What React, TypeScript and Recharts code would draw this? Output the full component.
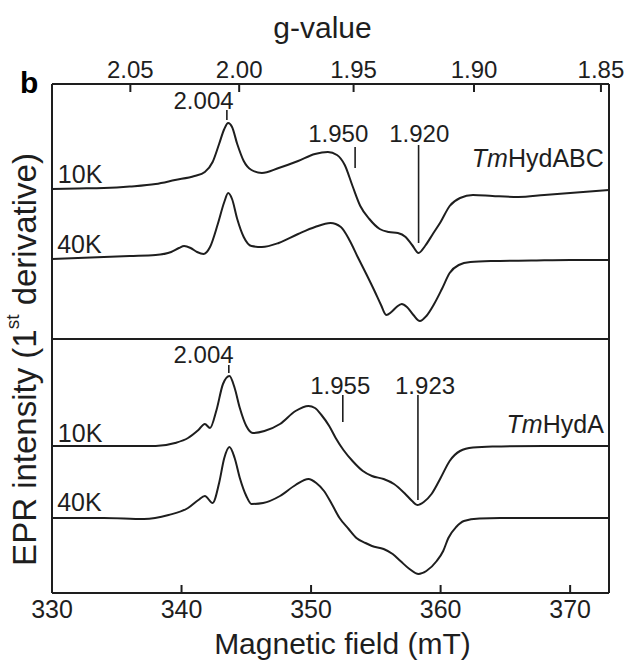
import React from 'react';
import { ComposedChart, Line, XAxis, YAxis, ReferenceLine, ReferenceDot } from 'recharts';

const FONT = '"Liberation Sans", Arial, Helvetica, sans-serif';
const INK = '#1e1e1e';

// Resonance field (mT) = G_FACTOR / g  (microwave frequency ~9.64 GHz)
const G_FACTOR = 688.9;
const fieldDomain: [number, number] = [330, 373];
const fieldTicks = [330, 340, 350, 360, 370];
const gTicks = [2.05, 2.0, 1.95, 1.9, 1.85];

// [field (mT), 1st-derivative intensity (a.u.)]
const hydABC10K: [number, number][] = [
  [330, 0], [332, 0.5], [334, 1], [336, 2.5], [338, 5], [339.5, 9], [341, 13], [341.8, 17],
  [342.4, 27], [342.9, 45], [343.3, 60], [343.6, 66], [343.9, 62], [344.3, 45], [344.8, 28],
  [345.4, 19], [346.2, 16], [347.5, 21], [349, 28], [350.3, 35], [351.3, 37], [352.0, 34],
  [352.6, 24], [353.2, 3], [353.8, -17], [354.5, -30], [355.3, -40], [356.0, -43], [356.7, -44],
  [357.3, -48], [357.8, -56], [358.3, -64], [358.8, -57], [359.4, -45], [360.0, -33], [360.7, -17],
  [361.5, -9], [362.5, -6], [364, -7], [366, -8], [368, -6], [370, -4], [373, -1],
];
const hydABC40K: [number, number][] = [
  [330, 0], [333, 1.5], [336, 3], [338, 4], [339.2, 7], [339.8, 11], [340.2, 13], [340.7, 11],
  [341.2, 7], [341.7, 5], [342.2, 12], [342.8, 35], [343.3, 57], [343.6, 66], [343.9, 60],
  [344.3, 40], [344.8, 22], [345.4, 13], [346.2, 12], [347.5, 16], [349, 25], [350.3, 32],
  [351.5, 36], [352.3, 32], [353.0, 18], [353.6, 2], [354.3, -16], [354.9, -32], [355.4, -46],
  [355.8, -56], [356.2, -53], [356.6, -48], [357.0, -45], [357.4, -48], [357.9, -56], [358.4, -62],
  [358.9, -57], [359.5, -45], [360.1, -30], [360.7, -14], [361.4, -6], [362.3, -3], [364, -2],
  [367, -1.5], [370, -1], [373, -1],
];
const hydA10K: [number, number][] = [
  [330, 0], [334, 0], [338, 0], [339.5, 3], [340.5, 8], [341.3, 16], [341.8, 22], [342.2, 18],
  [342.7, 36], [343.2, 62], [343.7, 70], [344.1, 58], [344.5, 38], [345.0, 20], [345.5, 13],
  [346.4, 15], [347.6, 22], [348.8, 35], [349.8, 40], [350.3, 38], [350.8, 31], [351.4, 20],
  [351.9, 8], [352.5, -4], [353.2, -15], [354.0, -25], [354.7, -30], [355.6, -33], [356.4, -38],
  [357.2, -47], [357.8, -55], [358.2, -59], [358.7, -56], [359.3, -48], [360.0, -32], [360.7, -15],
  [361.5, -5], [362.5, -1.5], [364, -0.5], [368, 0], [373, 0],
];
const hydA40K: [number, number][] = [
  [330, 0], [334, 0], [337.1, -1], [339, 3], [340.5, 10], [341.3, 18], [341.8, 22], [342.4, 15],
  [342.9, 35], [343.3, 60], [343.7, 71], [344.1, 60], [344.5, 40], [345.0, 22], [345.4, 14],
  [346.3, 15], [347.6, 22], [348.8, 33], [349.8, 39], [350.4, 35], [351.0, 27], [351.6, 14],
  [352.2, 0], [352.9, -11], [353.5, -20], [354.2, -25], [354.7, -28], [355.6, -31], [356.3, -36],
  [356.9, -43], [357.6, -51], [358.3, -56], [358.9, -53], [359.7, -43], [360.2, -33], [360.6, -20],
  [361.2, -9], [361.8, -3], [363, -0.5], [364.6, 0], [373, 0],
];

// vertical stacking offsets of the traces
const baselines = { hydABC10K: 404, hydABC40K: 334, hydA10K: 147, hydA40K: 75 };
const yDomain: [number, number] = [0, 509];
const panelDivider = 254;

const series = [
  { key: 'abc10', pts: hydABC10K, base: baselines.hydABC10K },
  { key: 'abc40', pts: hydABC40K, base: baselines.hydABC40K },
  { key: 'a10', pts: hydA10K, base: baselines.hydA10K },
  { key: 'a40', pts: hydA40K, base: baselines.hydA40K },
].map((s) => ({ key: s.key, rows: s.pts.map(([x, v]) => ({ x, v: v + s.base })) }));

// g-value markers: text, text position, marker line field & extent
const markers = [
  { text: '2.004', tx: 341.7, ty: 493, lx: 343.5, y1: 483, y2: 473 },
  { text: '1.950', tx: 352.1, ty: 460, lx: 353.4, y1: 446, y2: 425 },
  { text: '1.920', tx: 358.35, ty: 460, lx: 358.3, y1: 448, y2: 350 },
  { text: '2.004', tx: 341.7, ty: 239, lx: 343.65, y1: 228, y2: 220 },
  { text: '1.955', tx: 352.25, ty: 208, lx: 352.45, y1: 198, y2: 171 },
  { text: '1.923', tx: 358.8, ty: 208, lx: 358.25, y1: 198, y2: 93 },
];
const tempLabels = [
  { text: '10K', x: 330.45, y: 419 },
  { text: '40K', x: 330.4, y: 349 },
  { text: '10K', x: 330.45, y: 160 },
  { text: '40K', x: 330.4, y: 91 },
];
const sampleLabels = [
  { italic: 'Tm', rest: 'HydABC', x: 372.6, y: 435 },
  { italic: 'Tm', rest: 'HydA', x: 372.6, y: 169 },
];

const BottomTick = (props: any) => {
  const { x, y, payload } = props;
  return (
    <g>
      <line x1={x} x2={x} y1={y} y2={y - 8} stroke={INK} strokeWidth={2} />
      <text x={x} y={y + 25} textAnchor="middle" fontSize={25} fontFamily={FONT} fill={INK}>
        {payload.value}
      </text>
    </g>
  );
};

const TopTick = (props: any) => {
  const { x, y, payload } = props;
  return (
    <g>
      <line x1={x} x2={x} y1={y} y2={y + 8} stroke={INK} strokeWidth={2} />
      <text x={x} y={y - 6} textAnchor="middle" fontSize={24} fontFamily={FONT} fill={INK}>
        {(G_FACTOR / payload.value).toFixed(2)}
      </text>
    </g>
  );
};

const TopTitle = (props: any) => {
  const vb = props.viewBox;
  return (
    <g>
      <text x={vb.x + vb.width / 2 - 8} y={vb.y + 38} textAnchor="middle" fontSize={30} fontFamily={FONT} fill={INK}>
        g-value
      </text>
      <text x={vb.x - 32} y={vb.y + vb.height + 9} fontSize={30} fontWeight="bold" fontFamily={FONT} fill="#000">
        b
      </text>
    </g>
  );
};

const BottomTitle = (props: any) => {
  const vb = props.viewBox;
  return (
    <text x={vb.x + vb.width / 2 + 12} y={vb.y + 61} textAnchor="middle" fontSize={30} fontFamily={FONT} fill={INK}>
      Magnetic field (mT)
    </text>
  );
};

const YTitle = (props: any) => {
  const vb = props.viewBox;
  const cx = vb.x + 24;
  const cy = vb.y + vb.height / 2 + 21;
  return (
    <text
      x={cx}
      y={cy}
      transform={`rotate(-90 ${cx} ${cy})`}
      textAnchor="middle"
      dominantBaseline="central"
      fontSize={33}
      fontFamily={FONT}
      fill={INK}
    >
      EPR intensity (1
      <tspan dy={-12} fontSize={19}>st</tspan>
      <tspan dy={12}> derivative)</tspan>
    </text>
  );
};

const textShape = (content: React.ReactNode, anchor: string, size: number) => (p: any) => (
  <text
    x={p.cx}
    y={p.cy}
    textAnchor={anchor}
    dominantBaseline="central"
    fontSize={size}
    fontFamily={FONT}
    fill={INK}
  >
    {content}
  </text>
);

export default function App() {
  return (
    <div style={{ position: 'absolute', left: 0, top: 0, width: 625, height: 665, background: '#fff' }}>
      <ComposedChart width={625} height={665} margin={{ top: 0, right: 16, bottom: 0, left: 0 }}>
        <XAxis
          xAxisId="g"
          orientation="top"
          type="number"
          dataKey="x"
          domain={fieldDomain}
          ticks={gTicks.map((g) => G_FACTOR / g)}
          interval={0}
          allowDataOverflow
          height={84}
          tickSize={0}
          tickMargin={0}
          tick={<TopTick />}
          axisLine={{ stroke: INK, strokeWidth: 2 }}
          label={TopTitle}
        />
        <XAxis
          xAxisId="f"
          orientation="bottom"
          type="number"
          dataKey="x"
          domain={fieldDomain}
          ticks={fieldTicks}
          interval={0}
          allowDataOverflow
          height={72}
          tickSize={0}
          tickMargin={0}
          tick={<BottomTick />}
          axisLine={{ stroke: INK, strokeWidth: 2 }}
          label={BottomTitle}
        />
        <YAxis
          type="number"
          domain={yDomain}
          allowDataOverflow
          width={52}
          tick={false}
          tickLine={false}
          axisLine={false}
          label={YTitle}
        />
        <ReferenceLine xAxisId="f" x={fieldDomain[0]} stroke={INK} strokeWidth={2} />
        <ReferenceLine xAxisId="f" x={fieldDomain[1]} stroke={INK} strokeWidth={2} />
        <ReferenceLine xAxisId="f" y={panelDivider} stroke={INK} strokeWidth={2} />
        {series.map((s) => (
          <Line
            key={s.key}
            xAxisId="f"
            data={s.rows}
            dataKey="v"
            type="monotone"
            dot={false}
            stroke={INK}
            strokeWidth={2}
            isAnimationActive={false}
          />
        ))}
        {markers.map((m, i) => (
          <ReferenceLine
            key={'ml' + i}
            xAxisId="f"
            segment={[{ x: m.lx, y: m.y1 }, { x: m.lx, y: m.y2 }]}
            stroke={INK}
            strokeWidth={1.6}
          />
        ))}
        {markers.map((m, i) => (
          <ReferenceDot
            key={'mt' + i}
            xAxisId="f"
            x={m.tx}
            y={m.ty}
            r={0}
            shape={textShape(m.text, 'middle', 24)}
          />
        ))}
        {tempLabels.map((t, i) => (
          <ReferenceDot key={'tl' + i} xAxisId="f" x={t.x} y={t.y} r={0} shape={textShape(t.text, 'start', 25)} />
        ))}
        {sampleLabels.map((t, i) => (
          <ReferenceDot
            key={'sl' + i}
            xAxisId="f"
            x={t.x}
            y={t.y}
            r={0}
            shape={textShape(
              <>
                <tspan fontStyle="italic">{t.italic}</tspan>
                <tspan>{t.rest}</tspan>
              </>,
              'end',
              25
            )}
          />
        ))}
      </ComposedChart>
    </div>
  );
}
